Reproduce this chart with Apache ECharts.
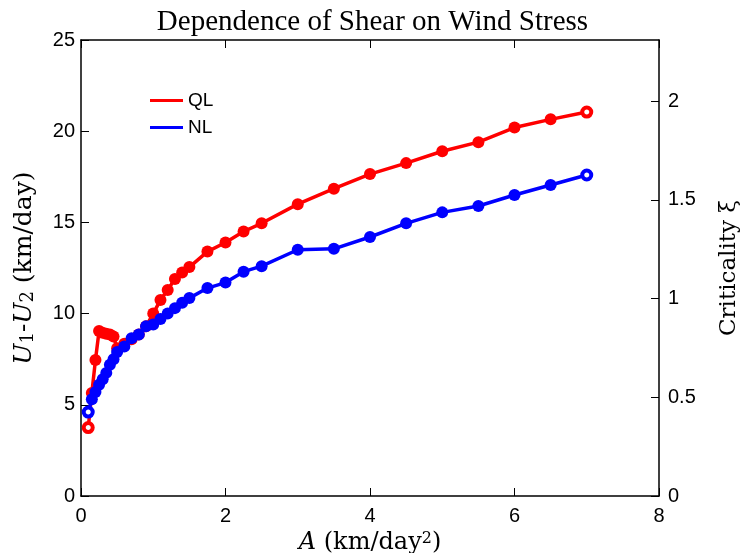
<!DOCTYPE html>
<html><head><meta charset="utf-8">
<script src="https://cdn.jsdelivr.net/npm/echarts@6/dist/echarts.min.js"></script>
<style>html,body{margin:0;padding:0;background:#fff}#c{width:745px;height:553px}</style>
</head><body><div id="c"></div>
<script>
const A = [0.1,0.15,0.2,0.25,0.3,0.35,0.4,0.45,0.5,0.6,0.7,0.8,0.9,1.0,1.1,1.2,1.3,1.4,1.5,1.75,2,2.25,2.5,3,3.5,4,4.5,5,5.5,6,6.5,7];
const QL = [3.75,5.65,7.45,9.05,8.95,8.9,8.85,8.75,8.1,8.35,8.6,8.85,9.3,10.0,10.75,11.3,11.9,12.25,12.55,13.4,13.9,14.5,14.95,16.0,16.85,17.65,18.25,18.9,19.4,20.2,20.65,21.05];
const NL = [4.6,5.3,5.7,6.1,6.4,6.75,7.2,7.5,7.9,8.2,8.65,8.85,9.3,9.4,9.7,10.0,10.3,10.6,10.85,11.4,11.7,12.3,12.6,13.5,13.55,14.2,14.95,15.55,15.9,16.5,17.05,17.6];
const xTicks = [0,2,4,6,8];
const yTicks = [0,5,10,15,20,25];
const critTicks = [0,0.5,1,1.5,2];

function mk(vals, color){
  return vals.map((v,i)=>{
    const d = {value:[A[i], v]};
    if(i===0 || i===vals.length-1){
      d.symbolSize = 9;
      d.itemStyle = {color:'#fff', borderColor:color, borderWidth:4};
    }
    return d;
  });
}
const chart = echarts.init(document.getElementById('c'));
const lab = {color:'#000', fontFamily:'Liberation Sans', fontSize:20};
const line = {onZero:false, show:true, lineStyle:{color:'#000', width:1.5}};
const tick = {show:true, inside:true, length:8, lineStyle:{color:'#000', width:1}};
const serif = 'DejaVu Serif';
chart.setOption({
  animation:false,
  title:{text:'Dependence of Shear on Wind Stress', left:'center', top:3,
    textStyle:{fontFamily:'Liberation Serif', fontWeight:'normal', fontSize:29, color:'#000'}},
  legend:{orient:'vertical', left:145, top:86, itemWidth:33, itemHeight:3, itemGap:8,
    textStyle:{fontFamily:'Liberation Sans', fontSize:19, color:'#000'},
    data:[{name:'QL', icon:'rect'},{name:'NL', icon:'rect'}]},
  grid:{left:81, right:86, top:40, bottom:57, outerBoundsMode:'none', containLabel:false},
  xAxis:[{type:'value', min:xTicks[0], max:xTicks[xTicks.length-1], interval:2,
      axisLine:line, axisTick:tick,
      splitLine:{show:false}, axisLabel:Object.assign({margin:10}, lab),
      name:'{i|A} (km/day{sup|2})', nameLocation:'middle', nameGap:31,
      nameTextStyle:{fontFamily:serif, fontSize:24, color:'#000',
        rich:{i:{fontStyle:'italic', fontFamily:serif, fontSize:24}, sup:{fontSize:16, verticalAlign:'top', fontFamily:serif}}}},
    {type:'value', position:'top', min:0, max:8, interval:2,
      axisLine:line, axisTick:tick,
      splitLine:{show:false}, axisLabel:{show:false}}],
  yAxis:[{type:'value', min:yTicks[0], max:yTicks[yTicks.length-1], interval:5,
      axisLine:line, axisTick:tick,
      splitLine:{show:false}, axisLabel:Object.assign({margin:6}, lab),
      name:'{i|U}{sub|1}-{i|U}{sub|2} (km/day)', nameLocation:'middle', nameGap:44, nameRotate:90,
      nameTextStyle:{fontFamily:serif, fontSize:25, color:'#000',
        rich:{i:{fontStyle:'italic', fontFamily:serif, fontSize:25}, sub:{fontSize:18, verticalAlign:'bottom', fontFamily:serif}}}},
    {type:'value', position:'right', min:critTicks[0], max:2.309, interval:0.5,
      axisLine:line, axisTick:tick,
      splitLine:{show:false}, axisLabel:Object.assign({margin:9, showMaxLabel:false}, lab),
      name:'Criticality ξ', nameLocation:'middle', nameGap:59, nameRotate:90,
      nameTextStyle:{fontFamily:serif, fontSize:23, color:'#000'}}],
  series:[
    {name:'QL', type:'line', data:mk(QL,'#ff0000'), symbol:'circle', symbolSize:12,
      lineStyle:{color:'#ff0000', width:3.5}, itemStyle:{color:'#ff0000'}, color:'#ff0000'},
    {name:'NL', type:'line', data:mk(NL,'#0000ff'), symbol:'circle', symbolSize:12,
      lineStyle:{color:'#0000ff', width:3.5}, itemStyle:{color:'#0000ff'}, color:'#0000ff'}
  ]
});
</script></body></html>
